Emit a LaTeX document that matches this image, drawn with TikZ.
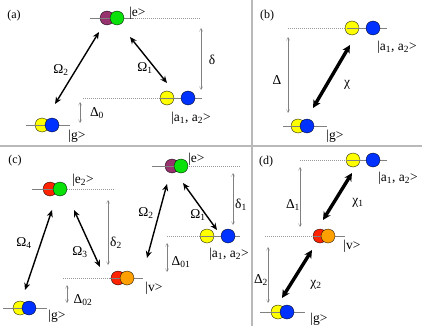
\documentclass[tikz,border=0pt]{standalone}
\usepackage{fontspec}
\setmainfont{Liberation Serif}
\usetikzlibrary{arrows.meta,positioning,calc}
\usepackage{xcolor}

\definecolor{atompurple}{RGB}{150,50,110}
\definecolor{atomgreen}{RGB}{10,225,10}
\definecolor{atomyellow}{RGB}{255,255,0}
\definecolor{atomblue}{RGB}{0,50,255}
\definecolor{atomred}{RGB}{255,35,0}
\definecolor{atomorange}{RGB}{255,160,0}
\definecolor{framegray}{RGB}{185,185,185}

\tikzset{
  atom/.style={circle, draw=black, line width=0.3pt, minimum size=14pt, inner sep=0pt},
  lvl/.style={draw=gray, line width=0.7pt},
  lvldot/.style={draw=gray!80, line width=0.6pt, dash pattern=on 1.2pt off 0.8pt},
  coup/.style={<->, line width=1.4pt, >={Stealth[length=7pt,width=6pt]}},
  strong/.style={<->, line width=3.4pt, >={Stealth[length=8pt,width=8pt]}},
  detun/.style={<->, draw=gray, line width=0.4pt, >={Straight Barb[length=3pt,width=3pt]}},
  lbl/.style={font=\fontsize{13.5}{15}\selectfont, inner sep=0pt},
  panel/.style={font=\fontsize{12}{14}\selectfont, inner sep=0pt},
}

\begin{document}
\begin{tikzpicture}[x=1pt, y=-1pt]
  \useasboundingbox (0,0) rectangle (422,326);

  % Panel frame
  \draw[framegray, line width=1.6pt] (252,0) -- (252,326);
  \draw[framegray, line width=1.6pt] (0,146) -- (422,146);

  % ---------- (a) ----------
  \node[panel] (pa) at (14,16) {(a)};
  % levels and atoms
  \node[atom, fill=atompurple] (ea1) at (107,18) {};
  \draw[lvl] (90,18) -- (133,18);
  \draw[lvldot] (133,18) -- (200,18);
  \node[atom, fill=atomgreen] (ea2) at (117,18) {};
  \node[lbl, anchor=west] (ela) at (129,13) {|e>};

  \draw[lvldot] (83,98) -- (160,98);
  \node[atom, fill=atomyellow] (aa1) at (167,98) {};
  \draw[lvl] (160,98) -- (202,98);
  \node[atom, fill=atomblue] (aa2) at (188,98) {};
  \node[lbl] (ala) at (191,118) {|a\textsubscript{1}, a\textsubscript{2}>};

  \node[atom, fill=atomyellow] (ga1) at (42,125) {};
  \draw[lvl] (26,125) -- (70,125);
  \node[atom, fill=atomblue] (ga2) at (52,125) {};
  \node[lbl] (gla) at (77,136) {|g>};

  % detunings
  \coordinate (dat) at (201,28);
  \coordinate (dab) at (201,90);
  \draw[detun] (dat) -- (dab);
  \node[lbl] (dla) at (212,60) {δ};
  \coordinate (d0t) at (80,102);
  \coordinate (d0b) at (80,123);
  \draw[detun] (d0t) -- (d0b);
  \node[lbl] (d0la) at (97,113) {Δ\textsubscript{0}};

  % couplings
  \coordinate (o1s) at (130,37);
  \coordinate (o1e) at (167,83);
  \draw[coup] (o1s) -- (o1e);
  \node[lbl] (o1la) at (145,68) {Ω\textsubscript{1}};
  \coordinate (o2s) at (99,32);
  \coordinate (o2e) at (55,104);
  \draw[coup] (o2s) -- (o2e);
  \node[lbl] (o2la) at (61,70) {Ω\textsubscript{2}};

  % ---------- (b) ----------
  \node[panel] (pb) at (267,16) {(b)};
  \draw[lvldot] (288,28) -- (347,28);
  \node[atom, fill=atomyellow] (ab1) at (352,28) {};
  \draw[lvl] (347,28) -- (387,28);
  \node[atom, fill=atomblue] (ab2) at (373,28) {};
  \node[lbl] (alb) at (397,47) {|a\textsubscript{1}, a\textsubscript{2}>};

  \node[atom, fill=atomyellow] (gb1) at (298,126) {};
  \draw[lvl] (283,126) -- (327,126);
  \node[atom, fill=atomblue] (gb2) at (307,126) {};
  \node[lbl] (glb) at (335,136) {|g>};

  \coordinate (dbt) at (288,37);
  \coordinate (dbb) at (288,113);
  \draw[detun] (dbt) -- (dbb);
  \node[lbl] (dlb) at (277,80) {Δ};

  \coordinate (chs) at (350,45);
  \coordinate (che) at (313,108);
  \draw[strong] (chs) -- (che);
  \node[lbl] (chlb) at (347,85) {χ};

  % ---------- (c) ----------
  \node[panel] (pc) at (15,161) {(c)};
  % upper right Lambda
  \node[atom, fill=atompurple] (ec1) at (172,166) {};
  \draw[lvl] (152,166) -- (187,166);
  \draw[lvldot] (187,166) -- (240,166);
  \node[atom, fill=atomgreen] (ec2) at (181,166) {};
  \node[lbl, anchor=west] (elc) at (188,159) {|e>};

  \draw[lvldot] (167,236) -- (200,236);
  \node[atom, fill=atomyellow] (ac1) at (207,236) {};
  \draw[lvl] (200,236) -- (240,236);
  \node[atom, fill=atomblue] (ac2) at (228,236) {};
  \node[lbl] (alc) at (229,254) {|a\textsubscript{1}, a\textsubscript{2}>};

  % lower left Lambda
  \node[atom, fill=atomred] (e2c1) at (50,189) {};
  \draw[lvl] (32,189) -- (67,189);
  \draw[lvldot] (67,189) -- (115,189);
  \node[atom, fill=atomgreen] (e2c2) at (60,189) {};
  \node[lbl, anchor=west] (e2lc) at (72,180) {|e\textsubscript{2}>};

  \draw[lvldot] (63,278) -- (110,278);
  \node[atom, fill=atomred] (vc1) at (118,278) {};
  \draw[lvl] (110,278) -- (143,278);
  \node[atom, fill=atomorange] (vc2) at (127,278) {};
  \node[lbl] (vlc) at (154,288) {|v>};

  \node[atom, fill=atomyellow] (gc1) at (20,308) {};
  \draw[lvl] (3,308) -- (47,308);
  \node[atom, fill=atomblue] (gc2) at (29,308) {};
  \node[lbl] (glc) at (57,316) {|g>};

  % detunings
  \coordinate (d1t) at (233,173);
  \coordinate (d1b) at (233,225);
  \draw[detun] (d1t) -- (d1b);
  \node[lbl] (d1lc) at (241,205) {δ\textsubscript{1}};
  \coordinate (d01t) at (167,243);
  \coordinate (d01b) at (167,272);
  \draw[detun] (d01t) -- (d01b);
  \node[lbl] (d01lc) at (181,262) {Δ\textsubscript{01}};
  \coordinate (d2t) at (108,200);
  \coordinate (d2b) at (108,265);
  \draw[detun] (d2t) -- (d2b);
  \node[lbl] (d2lc) at (116,243) {δ\textsubscript{2}};
  \coordinate (d02t) at (67,285);
  \coordinate (d02b) at (67,303);
  \draw[detun] (d02t) -- (d02b);
  \node[lbl] (d02lc) at (83,300) {Δ\textsubscript{02}};

  % couplings
  \coordinate (c1s) at (183,183);
  \coordinate (c1e) at (217,230);
  \draw[coup] (c1s) -- (c1e);
  \node[lbl] (c1l) at (198,215) {Ω\textsubscript{1}};
  \coordinate (c2s) at (167,184);
  \coordinate (c2e) at (147,258);
  \draw[coup] (c2s) -- (c2e);
  \node[lbl] (c2l) at (146,213) {Ω\textsubscript{2}};
  \coordinate (c3s) at (74,210);
  \coordinate (c3e) at (100,267);
  \draw[coup] (c3s) -- (c3e);
  \node[lbl] (c3l) at (80,252) {Ω\textsubscript{3}};
  \coordinate (c4s) at (52,210);
  \coordinate (c4e) at (25,290);
  \draw[coup] (c4s) -- (c4e);
  \node[lbl] (c4l) at (24,243) {Ω\textsubscript{4}};

  % ---------- (d) ----------
  \node[panel] (pd) at (266,162) {(d)};
  \draw[lvldot] (300,160) -- (347,160);
  \node[atom, fill=atomyellow] (ad1) at (353,160) {};
  \draw[lvl] (347,160) -- (387,160);
  \node[atom, fill=atomblue] (ad2) at (373,160) {};
  \node[lbl] (ald) at (398,178) {|a\textsubscript{1}, a\textsubscript{2}>};

  \draw[lvldot] (265,236) -- (313,236);
  \node[atom, fill=atomred] (vd1) at (320,236) {};
  \draw[lvl] (313,236) -- (345,236);
  \node[atom, fill=atomorange] (vd2) at (328,236) {};
  \node[lbl] (vld) at (352,246) {|v>};

  \node[atom, fill=atomyellow] (gd1) at (278,312) {};
  \draw[lvl] (260,312) -- (305,312);
  \node[atom, fill=atomblue] (gd2) at (287,312) {};
  \node[lbl] (gld) at (319,319) {|g>};

  \coordinate (e1t) at (300,167);
  \coordinate (e1b) at (300,227);
  \draw[detun] (e1t) -- (e1b);
  \node[lbl] (e1ld) at (293,205) {Δ\textsubscript{1}};
  \coordinate (e2t) at (268,247);
  \coordinate (e2b) at (268,303);
  \draw[detun] (e2t) -- (e2b);
  \node[lbl] (e2ld) at (261,280) {Δ\textsubscript{2}};

  \coordinate (x1s) at (352,173);
  \coordinate (x1e) at (323,220);
  \draw[strong] (x1s) -- (x1e);
  \node[lbl] (x1l) at (358,203) {χ\textsubscript{1}};
  \coordinate (x2s) at (312,250);
  \coordinate (x2e) at (282,298);
  \draw[strong] (x2s) -- (x2e);
  \node[lbl] (x2l) at (316,285) {χ\textsubscript{2}};
\end{tikzpicture}
\end{document}
